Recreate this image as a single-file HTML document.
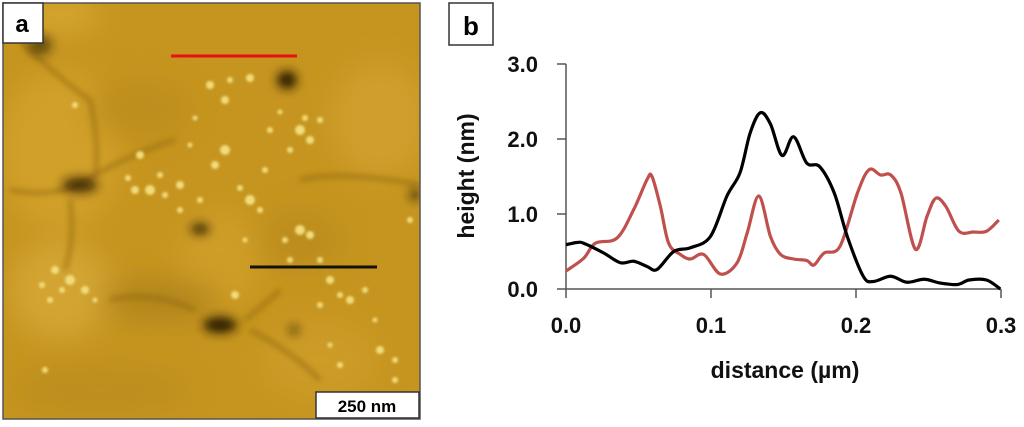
<!DOCTYPE html>
<html><head><meta charset="utf-8"><style>
body{margin:0;background:#fff;width:1024px;height:422px;overflow:hidden;font-family:"Liberation Sans",Arial,sans-serif}
</style></head><body>
<svg width="1024" height="422" viewBox="0 0 1024 422" xmlns="http://www.w3.org/2000/svg">
<defs>
<filter id="blur6"><feGaussianBlur stdDeviation="5"/></filter>
<filter id="blur2"><feGaussianBlur stdDeviation="1.2"/></filter>
<filter id="blur3"><feGaussianBlur stdDeviation="3"/></filter>
<filter id="blur12"><feGaussianBlur stdDeviation="14"/></filter>
<clipPath id="afmclip"><rect x="3" y="3" width="417" height="416"/></clipPath>
</defs>
<g clip-path="url(#afmclip)">
<rect x="3" y="3" width="417" height="416" fill="#c5951f"/>
<g filter="url(#blur12)" opacity="0.7">
<ellipse cx="60" cy="150" rx="60" ry="80" fill="#d6a52e"/>
<ellipse cx="380" cy="120" rx="50" ry="60" fill="#d4a330"/>
<ellipse cx="60" cy="290" rx="50" ry="50" fill="#d9ab3a"/>
<ellipse cx="220" cy="260" rx="40" ry="50" fill="#d2a12c"/>
<ellipse cx="300" cy="240" rx="40" ry="30" fill="#b88a1c"/>
<ellipse cx="140" cy="110" rx="50" ry="30" fill="#bb8c1c"/>
<ellipse cx="160" cy="300" rx="60" ry="20" fill="#a97f1a"/>
<ellipse cx="320" cy="360" rx="60" ry="40" fill="#cf9f2a"/>
<ellipse cx="100" cy="390" rx="90" ry="25" fill="#ba8c1e"/>
<ellipse cx="60" cy="15" rx="40" ry="15" fill="#e0b23a"/>
</g>
<g filter="url(#blur3)" fill="none" stroke="#8a6210" stroke-width="4" opacity="0.6">
<path d="M20,40 Q60,80 90,100 Q100,150 95,175 Q60,200 10,190"/>
<path d="M95,175 Q140,150 175,140"/>
<path d="M300,180 Q340,170 420,185"/>
<path d="M70,200 Q75,240 65,270"/>
<path d="M195,310 Q150,290 110,300"/>
<path d="M245,320 Q270,300 280,290"/>
<path d="M250,330 Q290,350 320,380"/>
</g>
<g filter="url(#blur6)" fill="#2a1a04">
<ellipse cx="287" cy="80" rx="10" ry="9"/>
<ellipse cx="200" cy="229" rx="9" ry="5"/>
<ellipse cx="220" cy="325" rx="17" ry="8"/>
<ellipse cx="80" cy="185" rx="18" ry="8" opacity="0.8"/>
<ellipse cx="40" cy="45" rx="12" ry="10" opacity="0.6"/>
<ellipse cx="415" cy="195" rx="5" ry="5"/>
<ellipse cx="294" cy="330" rx="4" ry="4"/>
</g>
<g filter="url(#blur2)" fill="#f2dc7a">
<circle cx="210" cy="85" r="4"/><circle cx="230" cy="80" r="3"/><circle cx="250" cy="78" r="4"/><circle cx="225" cy="100" r="4"/>
<circle cx="300" cy="130" r="5"/><circle cx="310" cy="140" r="4"/><circle cx="290" cy="150" r="3"/><circle cx="320" cy="120" r="3"/>
<circle cx="140" cy="155" r="4"/><circle cx="150" cy="190" r="5"/><circle cx="135" cy="190" r="4"/><circle cx="225" cy="150" r="5"/>
<circle cx="215" cy="165" r="4"/><circle cx="180" cy="185" r="4"/><circle cx="250" cy="200" r="5"/><circle cx="260" cy="210" r="3"/>
<circle cx="300" cy="230" r="5"/><circle cx="310" cy="235" r="4"/><circle cx="285" cy="240" r="3"/><circle cx="55" cy="270" r="4"/>
<circle cx="70" cy="280" r="5"/><circle cx="85" cy="290" r="4"/><circle cx="50" cy="300" r="3"/><circle cx="235" cy="295" r="4"/>
<circle cx="330" cy="280" r="4"/><circle cx="340" cy="295" r="3"/><circle cx="350" cy="300" r="4"/><circle cx="380" cy="350" r="4"/>
<circle cx="395" cy="360" r="3"/><circle cx="340" cy="365" r="3"/><circle cx="75" cy="105" r="3"/><circle cx="410" cy="220" r="3"/>
<circle cx="180" cy="210" r="3"/><circle cx="200" cy="200" r="3"/><circle cx="265" cy="170" r="3"/><circle cx="45" cy="370" r="3"/>
<circle cx="160" cy="175" r="3"/><circle cx="128" cy="178" r="3"/><circle cx="165" cy="195" r="3"/><circle cx="190" cy="145" r="2.5"/>
<circle cx="270" cy="130" r="3"/><circle cx="280" cy="112" r="2.5"/><circle cx="305" cy="118" r="3"/><circle cx="240" cy="188" r="3"/>
<circle cx="195" cy="118" r="2.5"/><circle cx="62" cy="290" r="3"/><circle cx="42" cy="285" r="3"/><circle cx="95" cy="300" r="2.5"/>
<circle cx="320" cy="305" r="3"/><circle cx="365" cy="290" r="3"/><circle cx="290" cy="260" r="3"/><circle cx="395" cy="380" r="3"/>
<circle cx="375" cy="320" r="2.5"/><circle cx="330" cy="345" r="2.5"/><circle cx="320" cy="260" r="3"/><circle cx="245" cy="240" r="2.5"/>
</g>
</g>
<rect x="3" y="3" width="417" height="416" fill="none" stroke="#555" stroke-width="1.5"/>
<line x1="171" y1="56" x2="297" y2="56" stroke="#e81010" stroke-width="3"/>
<line x1="250" y1="267" x2="377" y2="267" stroke="#111" stroke-width="3"/>
<g>
<rect x="3" y="3" width="40" height="40" fill="#fff" stroke="#333" stroke-width="1.5"/>
<text x="22" y="32" font-size="24" font-weight="bold" text-anchor="middle">a</text>
</g>
<g>
<rect x="316" y="392" width="103" height="26" fill="#fff" stroke="#333" stroke-width="1.5"/>
<text x="367" y="412" font-size="17" font-weight="bold" text-anchor="middle">250 nm</text>
</g>
<g>
<rect x="449" y="3" width="44" height="42" fill="#fff" stroke="#333" stroke-width="1.5"/>
<text x="471" y="35" font-size="26" font-weight="bold" text-anchor="middle">b</text>
</g>
<g id="chart"></g>
</svg>
<script>
const xTicks=[0,0.1,0.2,0.3];
const xTickLabels=["0.0","0.1","0.2","0.3"];
const yTicks=[0,1,2,3];
const yTickLabels=["0.0","1.0","2.0","3.0"];
const blackX=[0,0.0076,0.0122,0.026,0.0375,0.0467,0.0559,0.0628,0.0743,0.0858,0.0996,0.111,0.12,0.127,0.134,0.141,0.149,0.157,0.166,0.175,0.185,0.194,0.205,0.212,0.224,0.235,0.247,0.258,0.27,0.278,0.29,0.2995];
const blackY=[0.59,0.62,0.61,0.48,0.35,0.37,0.30,0.26,0.50,0.55,0.70,1.24,1.55,2.08,2.35,2.2,1.78,2.03,1.68,1.63,1.28,0.70,0.17,0.10,0.17,0.09,0.13,0.08,0.06,0.12,0.12,0];
const redX=[0,0.0122,0.0202,0.0352,0.0467,0.0559,0.0593,0.0651,0.0708,0.0789,0.0858,0.095,0.1065,0.118,0.125,0.133,0.141,0.148,0.157,0.166,0.171,0.178,0.189,0.201,0.209,0.217,0.224,0.231,0.241,0.249,0.255,0.262,0.271,0.281,0.29,0.2985];
const redY=[0.24,0.41,0.61,0.68,1.06,1.46,1.50,1.10,0.61,0.46,0.40,0.46,0.20,0.35,0.75,1.24,0.70,0.46,0.40,0.38,0.32,0.48,0.57,1.28,1.59,1.52,1.52,1.28,0.53,0.97,1.21,1.10,0.77,0.76,0.77,0.92];
const NS='http://www.w3.org/2000/svg';
const X0=566,X1=1001,Y0=289,Y1=64;
const sx=v=>X0+(v-0)/(0.3)*(X1-X0);
const sy=v=>Y0-(v/3)*(Y0-Y1);
const g=document.getElementById('chart');
function mk(t,a){const e=document.createElementNS(NS,t);for(const k in a)e.setAttribute(k,a[k]);g.appendChild(e);return e;}
function smooth(xs,ys){const p=xs.map((x,i)=>[sx(x),sy(ys[i])]);let d='M'+p[0][0]+','+p[0][1];for(let i=0;i<p.length-1;i++){const a=p[Math.max(0,i-1)],b=p[i],c=p[i+1],e=p[Math.min(p.length-1,i+2)];const c1=[b[0]+(c[0]-a[0])/6,b[1]+(c[1]-a[1])/6],c2=[c[0]-(e[0]-b[0])/6,c[1]-(e[1]-b[1])/6];d+=' C'+c1[0]+','+c1[1]+' '+c2[0]+','+c2[1]+' '+c[0]+','+c[1];}return d;}
let ax=mk('path',{d:`M${X0},${Y1} V${Y0} H${X1}`,fill:'none',stroke:'#555','stroke-width':1.5});


yTicks.forEach((v,i)=>{
 const t=mk('line',{x1:X0-9,x2:X0,y1:sy(v),y2:sy(v),stroke:'#555','stroke-width':1.5});
 
 
 const l=mk('text',{x:538,y:sy(v)+8,'font-size':22,'font-weight':'bold','text-anchor':'end',fill:'#111'});
 l.textContent=yTickLabels[i];
 
 
});
xTicks.forEach((v,i)=>{
 const t=mk('line',{x1:sx(v),x2:sx(v),y1:Y0,y2:Y0+9,stroke:'#555','stroke-width':1.5});
 
 
 const l=mk('text',{x:sx(v),y:333,'font-size':22,'font-weight':'bold','text-anchor':'middle',fill:'#111'});
 l.textContent=xTickLabels[i];
 
 
});
const xt=mk('text',{x:785,y:378,'font-size':23,'font-weight':'bold','text-anchor':'middle',fill:'#111'});
xt.textContent='distance (µm)';


const yt=mk('text',{x:0,y:0,'font-size':23,'font-weight':'bold','text-anchor':'middle',fill:'#111',transform:'translate(474,176) rotate(-90)'});
yt.textContent='height (nm)';


const rl=mk('path',{d:smooth(redX,redY),fill:'none',stroke:'#c0504d','stroke-width':3.2,'stroke-linejoin':'round'});


const bl=mk('path',{d:smooth(blackX,blackY),fill:'none',stroke:'#000','stroke-width':3.2,'stroke-linejoin':'round'});


</script>
</body></html>
